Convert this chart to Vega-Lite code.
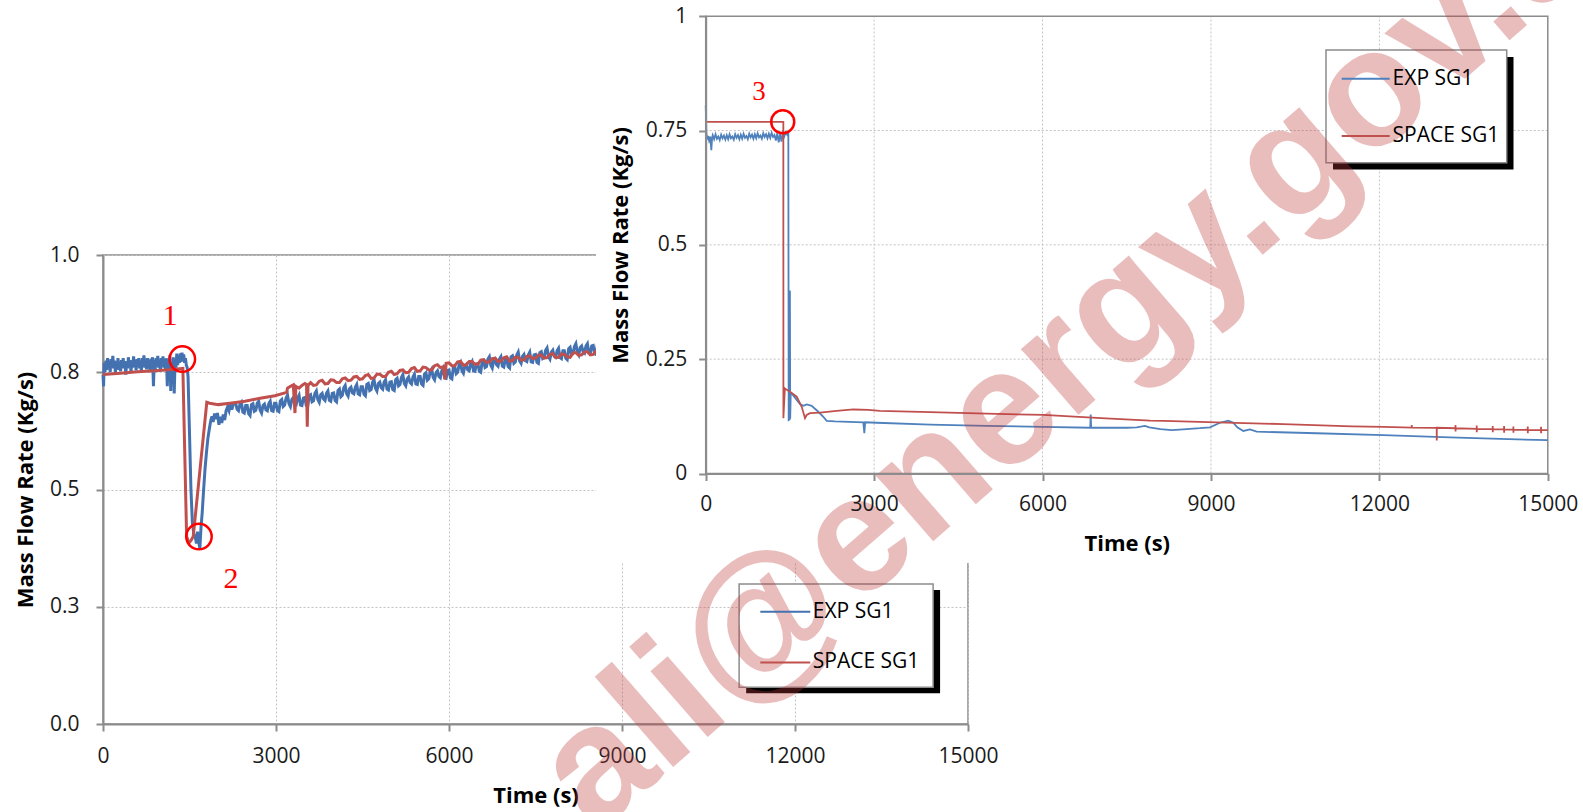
{
  "$schema": "https://vega.github.io/schema/vega-lite/v6.json",
  "width": 865,
  "height": 469,
  "autosize": {"type": "none"},
  "padding": {"left": 103, "top": 255, "right": 615, "bottom": 88},
  "background": "white",
  "config": {"font": "Open Sans", "view": {"stroke": "#8c8c8c", "strokeWidth": 1.5}},
  "datasets": {
    "left": [
      {"s":"EXP SG1","t":0,"v":0.745},{"s":"EXP SG1","t":10,"v":0.72},{"s":"EXP SG1","t":20,"v":0.77},{"s":"EXP SG1","t":35,"v":0.75},{"s":"EXP SG1","t":50,"v":0.775},{"s":"EXP SG1","t":65,"v":0.755},{"s":"EXP SG1","t":80,"v":0.78},{"s":"EXP SG1","t":95,"v":0.76},{"s":"EXP SG1","t":110,"v":0.772},{"s":"EXP SG1","t":125,"v":0.75},{"s":"EXP SG1","t":140,"v":0.778},{"s":"EXP SG1","t":155,"v":0.758},{"s":"EXP SG1","t":170,"v":0.785},{"s":"EXP SG1","t":185,"v":0.762},{"s":"EXP SG1","t":200,"v":0.775},{"s":"EXP SG1","t":215,"v":0.748},{"s":"EXP SG1","t":230,"v":0.772},{"s":"EXP SG1","t":245,"v":0.76},{"s":"EXP SG1","t":260,"v":0.78},{"s":"EXP SG1","t":275,"v":0.755},{"s":"EXP SG1","t":290,"v":0.77},{"s":"EXP SG1","t":305,"v":0.752},{"s":"EXP SG1","t":320,"v":0.776},{"s":"EXP SG1","t":335,"v":0.758},{"s":"EXP SG1","t":350,"v":0.78},{"s":"EXP SG1","t":365,"v":0.76},{"s":"EXP SG1","t":380,"v":0.774},{"s":"EXP SG1","t":395,"v":0.745},{"s":"EXP SG1","t":410,"v":0.77},{"s":"EXP SG1","t":425,"v":0.758},{"s":"EXP SG1","t":440,"v":0.782},{"s":"EXP SG1","t":455,"v":0.762},{"s":"EXP SG1","t":470,"v":0.776},{"s":"EXP SG1","t":485,"v":0.75},{"s":"EXP SG1","t":500,"v":0.772},{"s":"EXP SG1","t":515,"v":0.76},{"s":"EXP SG1","t":530,"v":0.784},{"s":"EXP SG1","t":545,"v":0.762},{"s":"EXP SG1","t":560,"v":0.775},{"s":"EXP SG1","t":575,"v":0.754},{"s":"EXP SG1","t":590,"v":0.778},{"s":"EXP SG1","t":605,"v":0.765},{"s":"EXP SG1","t":620,"v":0.78},{"s":"EXP SG1","t":635,"v":0.758},{"s":"EXP SG1","t":650,"v":0.773},{"s":"EXP SG1","t":665,"v":0.752},{"s":"EXP SG1","t":680,"v":0.78},{"s":"EXP SG1","t":695,"v":0.762},{"s":"EXP SG1","t":710,"v":0.786},{"s":"EXP SG1","t":725,"v":0.76},{"s":"EXP SG1","t":740,"v":0.774},{"s":"EXP SG1","t":755,"v":0.756},{"s":"EXP SG1","t":770,"v":0.78},{"s":"EXP SG1","t":785,"v":0.764},{"s":"EXP SG1","t":800,"v":0.776},{"s":"EXP SG1","t":815,"v":0.75},{"s":"EXP SG1","t":830,"v":0.779},{"s":"EXP SG1","t":845,"v":0.762},{"s":"EXP SG1","t":860,"v":0.782},{"s":"EXP SG1","t":875,"v":0.72},{"s":"EXP SG1","t":890,"v":0.776},{"s":"EXP SG1","t":905,"v":0.755},{"s":"EXP SG1","t":920,"v":0.78},{"s":"EXP SG1","t":935,"v":0.765},{"s":"EXP SG1","t":950,"v":0.785},{"s":"EXP SG1","t":965,"v":0.76},{"s":"EXP SG1","t":980,"v":0.775},{"s":"EXP SG1","t":995,"v":0.752},{"s":"EXP SG1","t":1010,"v":0.78},{"s":"EXP SG1","t":1025,"v":0.766},{"s":"EXP SG1","t":1040,"v":0.784},{"s":"EXP SG1","t":1055,"v":0.76},{"s":"EXP SG1","t":1070,"v":0.778},{"s":"EXP SG1","t":1085,"v":0.755},{"s":"EXP SG1","t":1100,"v":0.78},{"s":"EXP SG1","t":1115,"v":0.72},{"s":"EXP SG1","t":1130,"v":0.775},{"s":"EXP SG1","t":1145,"v":0.763},{"s":"EXP SG1","t":1160,"v":0.786},{"s":"EXP SG1","t":1175,"v":0.71},{"s":"EXP SG1","t":1190,"v":0.77},{"s":"EXP SG1","t":1205,"v":0.74},{"s":"EXP SG1","t":1220,"v":0.782},{"s":"EXP SG1","t":1235,"v":0.705},{"s":"EXP SG1","t":1250,"v":0.775},{"s":"EXP SG1","t":1265,"v":0.76},{"s":"EXP SG1","t":1280,"v":0.79},{"s":"EXP SG1","t":1295,"v":0.765},{"s":"EXP SG1","t":1310,"v":0.785},{"s":"EXP SG1","t":1325,"v":0.77},{"s":"EXP SG1","t":1340,"v":0.79},{"s":"EXP SG1","t":1355,"v":0.772},{"s":"EXP SG1","t":1370,"v":0.792},{"s":"EXP SG1","t":1385,"v":0.775},{"s":"EXP SG1","t":1400,"v":0.788},{"s":"EXP SG1","t":1415,"v":0.77},{"s":"EXP SG1","t":1430,"v":0.78},{"s":"EXP SG1","t":1445,"v":0.765},{"s":"EXP SG1","t":1460,"v":0.76},
      {"s":"EXP SG1","t":1475,"v":0.74},{"s":"EXP SG1","t":1500,"v":0.62},{"s":"EXP SG1","t":1525,"v":0.5},{"s":"EXP SG1","t":1550,"v":0.43},{"s":"EXP SG1","t":1575,"v":0.405},{"s":"EXP SG1","t":1600,"v":0.4},{"s":"EXP SG1","t":1620,"v":0.385},{"s":"EXP SG1","t":1640,"v":0.41},{"s":"EXP SG1","t":1660,"v":0.388},{"s":"EXP SG1","t":1680,"v":0.375},{"s":"EXP SG1","t":1700,"v":0.42},{"s":"EXP SG1","t":1720,"v":0.45},{"s":"EXP SG1","t":1745,"v":0.5},{"s":"EXP SG1","t":1770,"v":0.545},{"s":"EXP SG1","t":1795,"v":0.58},{"s":"EXP SG1","t":1820,"v":0.61},{"s":"EXP SG1","t":1845,"v":0.63},{"s":"EXP SG1","t":1870,"v":0.648},{"s":"EXP SG1","t":1890,"v":0.656},{"s":"EXP SG1","t":1910,"v":0.644},{"s":"EXP SG1","t":1935,"v":0.662},{"s":"EXP SG1","t":1960,"v":0.65},{"s":"EXP SG1","t":1985,"v":0.663},{"s":"EXP SG1","t":2010,"v":0.638},{"s":"EXP SG1","t":2035,"v":0.655},{"s":"EXP SG1","t":2060,"v":0.642},{"s":"EXP SG1","t":2085,"v":0.66},{"s":"EXP SG1","t":2110,"v":0.648},{"s":"EXP SG1","t":2135,"v":0.668},{"s":"EXP SG1","t":2160,"v":0.676},{"s":"EXP SG1","t":2185,"v":0.668},{"s":"EXP SG1","t":2210,"v":0.686},{"s":"EXP SG1","t":2235,"v":0.67},{"s":"EXP SG1","t":2260,"v":0.683},
      {"s":"EXP SG1","t":2300,"v":0.684},{"s":"EXP SG1","t":2350,"v":0.668},{"s":"EXP SG1","t":2400,"v":0.686},{"s":"EXP SG1","t":2450,"v":0.663},{"s":"EXP SG1","t":2500,"v":0.679},{"s":"EXP SG1","t":2550,"v":0.658},{"s":"EXP SG1","t":2600,"v":0.683},{"s":"EXP SG1","t":2650,"v":0.669},{"s":"EXP SG1","t":2700,"v":0.688},{"s":"EXP SG1","t":2750,"v":0.663},{"s":"EXP SG1","t":2800,"v":0.682},{"s":"EXP SG1","t":2850,"v":0.668},{"s":"EXP SG1","t":2900,"v":0.688},{"s":"EXP SG1","t":2950,"v":0.667},{"s":"EXP SG1","t":3000,"v":0.684},{"s":"EXP SG1","t":3050,"v":0.666},{"s":"EXP SG1","t":3100,"v":0.692},{"s":"EXP SG1","t":3150,"v":0.68},{"s":"EXP SG1","t":3200,"v":0.701},{"s":"EXP SG1","t":3250,"v":0.677},{"s":"EXP SG1","t":3300,"v":0.696},{"s":"EXP SG1","t":3350,"v":0.681},{"s":"EXP SG1","t":3400,"v":0.701},{"s":"EXP SG1","t":3450,"v":0.679},{"s":"EXP SG1","t":3500,"v":0.696},{"s":"EXP SG1","t":3550,"v":0.677},{"s":"EXP SG1","t":3600,"v":0.702},{"s":"EXP SG1","t":3650,"v":0.689},{"s":"EXP SG1","t":3700,"v":0.71},{"s":"EXP SG1","t":3750,"v":0.686},{"s":"EXP SG1","t":3800,"v":0.705},{"s":"EXP SG1","t":3850,"v":0.69},{"s":"EXP SG1","t":3900,"v":0.71},{"s":"EXP SG1","t":3950,"v":0.688},{"s":"EXP SG1","t":4000,"v":0.706},{"s":"EXP SG1","t":4050,"v":0.687},{"s":"EXP SG1","t":4100,"v":0.714},{"s":"EXP SG1","t":4150,"v":0.701},{"s":"EXP SG1","t":4200,"v":0.722},{"s":"EXP SG1","t":4250,"v":0.699},{"s":"EXP SG1","t":4300,"v":0.718},{"s":"EXP SG1","t":4350,"v":0.704},{"s":"EXP SG1","t":4400,"v":0.724},{"s":"EXP SG1","t":4450,"v":0.702},{"s":"EXP SG1","t":4500,"v":0.719},{"s":"EXP SG1","t":4550,"v":0.7},{"s":"EXP SG1","t":4600,"v":0.726},{"s":"EXP SG1","t":4650,"v":0.713},{"s":"EXP SG1","t":4700,"v":0.734},{"s":"EXP SG1","t":4750,"v":0.71},{"s":"EXP SG1","t":4800,"v":0.729},{"s":"EXP SG1","t":4850,"v":0.714},{"s":"EXP SG1","t":4900,"v":0.734},{"s":"EXP SG1","t":4950,"v":0.712},{"s":"EXP SG1","t":5000,"v":0.73},{"s":"EXP SG1","t":5050,"v":0.711},{"s":"EXP SG1","t":5100,"v":0.737},{"s":"EXP SG1","t":5150,"v":0.724},{"s":"EXP SG1","t":5200,"v":0.745},{"s":"EXP SG1","t":5250,"v":0.721},{"s":"EXP SG1","t":5300,"v":0.74},{"s":"EXP SG1","t":5350,"v":0.725},{"s":"EXP SG1","t":5400,"v":0.746},{"s":"EXP SG1","t":5450,"v":0.724},{"s":"EXP SG1","t":5500,"v":0.741},{"s":"EXP SG1","t":5550,"v":0.722},{"s":"EXP SG1","t":5600,"v":0.749},{"s":"EXP SG1","t":5650,"v":0.736},{"s":"EXP SG1","t":5700,"v":0.757},{"s":"EXP SG1","t":5750,"v":0.734},{"s":"EXP SG1","t":5800,"v":0.753},{"s":"EXP SG1","t":5850,"v":0.738},{"s":"EXP SG1","t":5900,"v":0.759},{"s":"EXP SG1","t":5950,"v":0.737},{"s":"EXP SG1","t":6000,"v":0.755},{"s":"EXP SG1","t":6050,"v":0.736},{"s":"EXP SG1","t":6100,"v":0.762},{"s":"EXP SG1","t":6150,"v":0.75},{"s":"EXP SG1","t":6200,"v":0.771},{"s":"EXP SG1","t":6250,"v":0.748},{"s":"EXP SG1","t":6300,"v":0.767},{"s":"EXP SG1","t":6350,"v":0.753},{"s":"EXP SG1","t":6400,"v":0.773},{"s":"EXP SG1","t":6450,"v":0.752},{"s":"EXP SG1","t":6500,"v":0.769},{"s":"EXP SG1","t":6550,"v":0.75},{"s":"EXP SG1","t":6600,"v":0.775},{"s":"EXP SG1","t":6650,"v":0.762},{"s":"EXP SG1","t":6700,"v":0.783},{"s":"EXP SG1","t":6750,"v":0.759},{"s":"EXP SG1","t":6800,"v":0.778},{"s":"EXP SG1","t":6850,"v":0.763},{"s":"EXP SG1","t":6900,"v":0.783},{"s":"EXP SG1","t":6950,"v":0.761},{"s":"EXP SG1","t":7000,"v":0.778},{"s":"EXP SG1","t":7050,"v":0.759},{"s":"EXP SG1","t":7100,"v":0.785},{"s":"EXP SG1","t":7150,"v":0.772},{"s":"EXP SG1","t":7200,"v":0.793},{"s":"EXP SG1","t":7250,"v":0.769},{"s":"EXP SG1","t":7300,"v":0.788},{"s":"EXP SG1","t":7350,"v":0.773},{"s":"EXP SG1","t":7400,"v":0.793},{"s":"EXP SG1","t":7450,"v":0.771},{"s":"EXP SG1","t":7500,"v":0.788},{"s":"EXP SG1","t":7550,"v":0.769},{"s":"EXP SG1","t":7600,"v":0.794},{"s":"EXP SG1","t":7650,"v":0.781},{"s":"EXP SG1","t":7700,"v":0.802},{"s":"EXP SG1","t":7750,"v":0.778},{"s":"EXP SG1","t":7800,"v":0.797},{"s":"EXP SG1","t":7850,"v":0.782},{"s":"EXP SG1","t":7900,"v":0.801},{"s":"EXP SG1","t":7950,"v":0.779},{"s":"EXP SG1","t":8000,"v":0.796},{"s":"EXP SG1","t":8050,"v":0.777},{"s":"EXP SG1","t":8100,"v":0.803},{"s":"EXP SG1","t":8150,"v":0.79},{"s":"EXP SG1","t":8200,"v":0.811},{"s":"EXP SG1","t":8250,"v":0.787},{"s":"EXP SG1","t":8300,"v":0.806},{"s":"EXP SG1","t":8350,"v":0.791},{"s":"EXP SG1","t":8400,"v":0.811},{"s":"EXP SG1","t":8450,"v":0.79},{"s":"EXP SG1","t":8500,"v":0.807},{"s":"EXP SG1","t":8550,"v":0.788},{"s":"EXP SG1","t":8600,"v":0.814},{"s":"EXP SG1","t":8650,"v":0.801},{"s":"EXP SG1","t":8700,"v":0.822},
      {"s":"EXP SG1","t":2325,"v":0.671},{"s":"EXP SG1","t":2375,"v":0.682},{"s":"EXP SG1","t":2425,"v":0.665},{"s":"EXP SG1","t":2475,"v":0.679},{"s":"EXP SG1","t":2525,"v":0.662},{"s":"EXP SG1","t":2575,"v":0.681},{"s":"EXP SG1","t":2625,"v":0.667},{"s":"EXP SG1","t":2675,"v":0.684},{"s":"EXP SG1","t":2725,"v":0.669},{"s":"EXP SG1","t":2775,"v":0.679},{"s":"EXP SG1","t":2825,"v":0.67},{"s":"EXP SG1","t":2875,"v":0.683},{"s":"EXP SG1","t":2925,"v":0.668},{"s":"EXP SG1","t":2975,"v":0.684},{"s":"EXP SG1","t":3025,"v":0.668},{"s":"EXP SG1","t":3075,"v":0.689},{"s":"EXP SG1","t":3125,"v":0.677},{"s":"EXP SG1","t":3175,"v":0.695},{"s":"EXP SG1","t":3225,"v":0.683},{"s":"EXP SG1","t":3275,"v":0.692},{"s":"EXP SG1","t":3325,"v":0.683},{"s":"EXP SG1","t":3375,"v":0.695},{"s":"EXP SG1","t":3425,"v":0.68},{"s":"EXP SG1","t":3475,"v":0.695},{"s":"EXP SG1","t":3525,"v":0.679},{"s":"EXP SG1","t":3575,"v":0.7},{"s":"EXP SG1","t":3625,"v":0.687},{"s":"EXP SG1","t":3675,"v":0.705},{"s":"EXP SG1","t":3725,"v":0.692},{"s":"EXP SG1","t":3775,"v":0.702},{"s":"EXP SG1","t":3825,"v":0.693},{"s":"EXP SG1","t":3875,"v":0.705},{"s":"EXP SG1","t":3925,"v":0.69},{"s":"EXP SG1","t":3975,"v":0.705},{"s":"EXP SG1","t":4025,"v":0.69},{"s":"EXP SG1","t":4075,"v":0.711},{"s":"EXP SG1","t":4125,"v":0.698},{"s":"EXP SG1","t":4175,"v":0.717},{"s":"EXP SG1","t":4225,"v":0.704},{"s":"EXP SG1","t":4275,"v":0.715},{"s":"EXP SG1","t":4325,"v":0.706},{"s":"EXP SG1","t":4375,"v":0.718},{"s":"EXP SG1","t":4425,"v":0.704},{"s":"EXP SG1","t":4475,"v":0.719},{"s":"EXP SG1","t":4525,"v":0.703},{"s":"EXP SG1","t":4575,"v":0.724},{"s":"EXP SG1","t":4625,"v":0.711},{"s":"EXP SG1","t":4675,"v":0.729},{"s":"EXP SG1","t":4725,"v":0.716},{"s":"EXP SG1","t":4775,"v":0.726},{"s":"EXP SG1","t":4825,"v":0.717},{"s":"EXP SG1","t":4875,"v":0.729},{"s":"EXP SG1","t":4925,"v":0.714},{"s":"EXP SG1","t":4975,"v":0.729},{"s":"EXP SG1","t":5025,"v":0.713},{"s":"EXP SG1","t":5075,"v":0.734},{"s":"EXP SG1","t":5125,"v":0.721},{"s":"EXP SG1","t":5175,"v":0.739},{"s":"EXP SG1","t":5225,"v":0.726},{"s":"EXP SG1","t":5275,"v":0.736},{"s":"EXP SG1","t":5325,"v":0.728},{"s":"EXP SG1","t":5375,"v":0.74},{"s":"EXP SG1","t":5425,"v":0.725},{"s":"EXP SG1","t":5475,"v":0.741},{"s":"EXP SG1","t":5525,"v":0.725},{"s":"EXP SG1","t":5575,"v":0.746},{"s":"EXP SG1","t":5625,"v":0.733},{"s":"EXP SG1","t":5675,"v":0.752},{"s":"EXP SG1","t":5725,"v":0.739},{"s":"EXP SG1","t":5775,"v":0.749},{"s":"EXP SG1","t":5825,"v":0.741},{"s":"EXP SG1","t":5875,"v":0.753},{"s":"EXP SG1","t":5925,"v":0.738},{"s":"EXP SG1","t":5975,"v":0.754},{"s":"EXP SG1","t":6025,"v":0.738},{"s":"EXP SG1","t":6075,"v":0.76},{"s":"EXP SG1","t":6125,"v":0.747},{"s":"EXP SG1","t":6175,"v":0.766},{"s":"EXP SG1","t":6225,"v":0.753},{"s":"EXP SG1","t":6275,"v":0.764},{"s":"EXP SG1","t":6325,"v":0.755},{"s":"EXP SG1","t":6375,"v":0.768},{"s":"EXP SG1","t":6425,"v":0.753},{"s":"EXP SG1","t":6475,"v":0.768},{"s":"EXP SG1","t":6525,"v":0.752},{"s":"EXP SG1","t":6575,"v":0.773},{"s":"EXP SG1","t":6625,"v":0.76},{"s":"EXP SG1","t":6675,"v":0.778},{"s":"EXP SG1","t":6725,"v":0.765},{"s":"EXP SG1","t":6775,"v":0.775},{"s":"EXP SG1","t":6825,"v":0.766},{"s":"EXP SG1","t":6875,"v":0.778},{"s":"EXP SG1","t":6925,"v":0.763},{"s":"EXP SG1","t":6975,"v":0.778},{"s":"EXP SG1","t":7025,"v":0.762},{"s":"EXP SG1","t":7075,"v":0.783},{"s":"EXP SG1","t":7125,"v":0.769},{"s":"EXP SG1","t":7175,"v":0.787},{"s":"EXP SG1","t":7225,"v":0.774},{"s":"EXP SG1","t":7275,"v":0.784},{"s":"EXP SG1","t":7325,"v":0.775},{"s":"EXP SG1","t":7375,"v":0.787},{"s":"EXP SG1","t":7425,"v":0.772},{"s":"EXP SG1","t":7475,"v":0.787},{"s":"EXP SG1","t":7525,"v":0.771},{"s":"EXP SG1","t":7575,"v":0.792},{"s":"EXP SG1","t":7625,"v":0.779},{"s":"EXP SG1","t":7675,"v":0.797},{"s":"EXP SG1","t":7725,"v":0.783},{"s":"EXP SG1","t":7775,"v":0.793},{"s":"EXP SG1","t":7825,"v":0.784},{"s":"EXP SG1","t":7875,"v":0.796},{"s":"EXP SG1","t":7925,"v":0.781},{"s":"EXP SG1","t":7975,"v":0.796},{"s":"EXP SG1","t":8025,"v":0.78},{"s":"EXP SG1","t":8075,"v":0.8},{"s":"EXP SG1","t":8125,"v":0.787},{"s":"EXP SG1","t":8175,"v":0.805},{"s":"EXP SG1","t":8225,"v":0.793},{"s":"EXP SG1","t":8275,"v":0.803},{"s":"EXP SG1","t":8325,"v":0.794},{"s":"EXP SG1","t":8375,"v":0.806},{"s":"EXP SG1","t":8425,"v":0.791},{"s":"EXP SG1","t":8475,"v":0.806},{"s":"EXP SG1","t":8525,"v":0.79},{"s":"EXP SG1","t":8575,"v":0.811},{"s":"EXP SG1","t":8625,"v":0.798},{"s":"EXP SG1","t":8675,"v":0.817},
      {"s":"SPACE SG1","t":0,"v":0.745},{"s":"SPACE SG1","t":300,"v":0.748},{"s":"SPACE SG1","t":600,"v":0.751},{"s":"SPACE SG1","t":900,"v":0.753},{"s":"SPACE SG1","t":1200,"v":0.756},{"s":"SPACE SG1","t":1385,"v":0.758},{"s":"SPACE SG1","t":1450,"v":0.4},{"s":"SPACE SG1","t":1490,"v":0.386},{"s":"SPACE SG1","t":1530,"v":0.392},{"s":"SPACE SG1","t":1565,"v":0.4},{"s":"SPACE SG1","t":1800,"v":0.686},{"s":"SPACE SG1","t":1850,"v":0.684},{"s":"SPACE SG1","t":1900,"v":0.683},{"s":"SPACE SG1","t":2000,"v":0.681},{"s":"SPACE SG1","t":2200,"v":0.684},{"s":"SPACE SG1","t":2462,"v":0.688},{"s":"SPACE SG1","t":2700,"v":0.694},{"s":"SPACE SG1","t":2982,"v":0.7},{"s":"SPACE SG1","t":3185,"v":0.707},{"s":"SPACE SG1","t":3200,"v":0.716},{"s":"SPACE SG1","t":3250,"v":0.72},{"s":"SPACE SG1","t":3300,"v":0.723},{"s":"SPACE SG1","t":3329,"v":0.663},{"s":"SPACE SG1","t":3345,"v":0.72},{"s":"SPACE SG1","t":3400,"v":0.716},{"s":"SPACE SG1","t":3450,"v":0.722},{"s":"SPACE SG1","t":3500,"v":0.726},{"s":"SPACE SG1","t":3530,"v":0.724},{"s":"SPACE SG1","t":3542,"v":0.634},{"s":"SPACE SG1","t":3555,"v":0.722},
      {"s":"SPACE SG1","t":3600,"v":0.728},{"s":"SPACE SG1","t":3650,"v":0.722},{"s":"SPACE SG1","t":3700,"v":0.723},{"s":"SPACE SG1","t":3750,"v":0.731},{"s":"SPACE SG1","t":3800,"v":0.733},{"s":"SPACE SG1","t":3850,"v":0.725},{"s":"SPACE SG1","t":3900,"v":0.726},{"s":"SPACE SG1","t":3950,"v":0.734},{"s":"SPACE SG1","t":4000,"v":0.733},{"s":"SPACE SG1","t":4050,"v":0.728},{"s":"SPACE SG1","t":4100,"v":0.728},{"s":"SPACE SG1","t":4150,"v":0.736},{"s":"SPACE SG1","t":4200,"v":0.738},{"s":"SPACE SG1","t":4250,"v":0.732},{"s":"SPACE SG1","t":4300,"v":0.733},{"s":"SPACE SG1","t":4350,"v":0.74},{"s":"SPACE SG1","t":4400,"v":0.741},{"s":"SPACE SG1","t":4450,"v":0.735},{"s":"SPACE SG1","t":4500,"v":0.736},{"s":"SPACE SG1","t":4550,"v":0.743},{"s":"SPACE SG1","t":4600,"v":0.745},{"s":"SPACE SG1","t":4650,"v":0.737},{"s":"SPACE SG1","t":4700,"v":0.738},{"s":"SPACE SG1","t":4750,"v":0.746},{"s":"SPACE SG1","t":4800,"v":0.746},{"s":"SPACE SG1","t":4850,"v":0.741},{"s":"SPACE SG1","t":4900,"v":0.741},{"s":"SPACE SG1","t":4950,"v":0.75},{"s":"SPACE SG1","t":5000,"v":0.752},{"s":"SPACE SG1","t":5050,"v":0.745},{"s":"SPACE SG1","t":5100,"v":0.747},{"s":"SPACE SG1","t":5150,"v":0.754},{"s":"SPACE SG1","t":5200,"v":0.755},{"s":"SPACE SG1","t":5250,"v":0.749},{"s":"SPACE SG1","t":5300,"v":0.75},{"s":"SPACE SG1","t":5350,"v":0.758},{"s":"SPACE SG1","t":5400,"v":0.76},{"s":"SPACE SG1","t":5450,"v":0.752},{"s":"SPACE SG1","t":5500,"v":0.753},{"s":"SPACE SG1","t":5550,"v":0.761},{"s":"SPACE SG1","t":5600,"v":0.76},{"s":"SPACE SG1","t":5650,"v":0.755},{"s":"SPACE SG1","t":5700,"v":0.755},{"s":"SPACE SG1","t":5750,"v":0.764},{"s":"SPACE SG1","t":5800,"v":0.766},{"s":"SPACE SG1","t":5850,"v":0.76},{"s":"SPACE SG1","t":5900,"v":0.762},{"s":"SPACE SG1","t":5930,"v":0.735},{"s":"SPACE SG1","t":5950,"v":0.769},{"s":"SPACE SG1","t":6000,"v":0.77},{"s":"SPACE SG1","t":6050,"v":0.764},{"s":"SPACE SG1","t":6100,"v":0.764},{"s":"SPACE SG1","t":6150,"v":0.772},{"s":"SPACE SG1","t":6200,"v":0.773},{"s":"SPACE SG1","t":6250,"v":0.765},{"s":"SPACE SG1","t":6300,"v":0.766},{"s":"SPACE SG1","t":6350,"v":0.773},{"s":"SPACE SG1","t":6400,"v":0.773},{"s":"SPACE SG1","t":6450,"v":0.767},{"s":"SPACE SG1","t":6500,"v":0.767},{"s":"SPACE SG1","t":6550,"v":0.776},{"s":"SPACE SG1","t":6600,"v":0.777},{"s":"SPACE SG1","t":6650,"v":0.771},{"s":"SPACE SG1","t":6700,"v":0.772},{"s":"SPACE SG1","t":6750,"v":0.779},{"s":"SPACE SG1","t":6800,"v":0.78},{"s":"SPACE SG1","t":6850,"v":0.773},{"s":"SPACE SG1","t":6900,"v":0.774},{"s":"SPACE SG1","t":6950,"v":0.781},{"s":"SPACE SG1","t":7000,"v":0.783},{"s":"SPACE SG1","t":7050,"v":0.774},{"s":"SPACE SG1","t":7100,"v":0.775},{"s":"SPACE SG1","t":7150,"v":0.782},{"s":"SPACE SG1","t":7200,"v":0.782},{"s":"SPACE SG1","t":7250,"v":0.776},{"s":"SPACE SG1","t":7300,"v":0.776},{"s":"SPACE SG1","t":7350,"v":0.784},{"s":"SPACE SG1","t":7400,"v":0.785},{"s":"SPACE SG1","t":7450,"v":0.779},{"s":"SPACE SG1","t":7500,"v":0.78},{"s":"SPACE SG1","t":7550,"v":0.787},{"s":"SPACE SG1","t":7600,"v":0.787},{"s":"SPACE SG1","t":7650,"v":0.78},{"s":"SPACE SG1","t":7700,"v":0.781},{"s":"SPACE SG1","t":7750,"v":0.788},{"s":"SPACE SG1","t":7800,"v":0.79},{"s":"SPACE SG1","t":7850,"v":0.781},{"s":"SPACE SG1","t":7900,"v":0.782},{"s":"SPACE SG1","t":7950,"v":0.789},{"s":"SPACE SG1","t":8000,"v":0.788},{"s":"SPACE SG1","t":8050,"v":0.783},{"s":"SPACE SG1","t":8100,"v":0.782},{"s":"SPACE SG1","t":8150,"v":0.791},{"s":"SPACE SG1","t":8200,"v":0.792},{"s":"SPACE SG1","t":8250,"v":0.786},{"s":"SPACE SG1","t":8300,"v":0.787},{"s":"SPACE SG1","t":8350,"v":0.793},{"s":"SPACE SG1","t":8400,"v":0.794},{"s":"SPACE SG1","t":8450,"v":0.787},{"s":"SPACE SG1","t":8500,"v":0.788},{"s":"SPACE SG1","t":8550,"v":0.795},{"s":"SPACE SG1","t":8600,"v":0.797},{"s":"SPACE SG1","t":8650,"v":0.788},{"s":"SPACE SG1","t":8700,"v":0.789}
    ],
    "right": [
      {"s":"EXP SG1","t":0,"v":0.805},{"s":"EXP SG1","t":12,"v":0.745},{"s":"EXP SG1","t":25,"v":0.73},{"s":"EXP SG1","t":40,"v":0.738},{"s":"EXP SG1","t":60,"v":0.728},{"s":"EXP SG1","t":80,"v":0.737},{"s":"EXP SG1","t":100,"v":0.707},{"s":"EXP SG1","t":115,"v":0.735},{"s":"EXP SG1","t":125,"v":0.74},{"s":"EXP SG1","t":150,"v":0.731},{"s":"EXP SG1","t":175,"v":0.742},{"s":"EXP SG1","t":200,"v":0.732},{"s":"EXP SG1","t":225,"v":0.737},{"s":"EXP SG1","t":250,"v":0.729},{"s":"EXP SG1","t":275,"v":0.741},{"s":"EXP SG1","t":300,"v":0.733},{"s":"EXP SG1","t":325,"v":0.739},{"s":"EXP SG1","t":350,"v":0.73},{"s":"EXP SG1","t":375,"v":0.74},{"s":"EXP SG1","t":400,"v":0.731},{"s":"EXP SG1","t":425,"v":0.742},{"s":"EXP SG1","t":450,"v":0.733},{"s":"EXP SG1","t":475,"v":0.737},{"s":"EXP SG1","t":500,"v":0.73},{"s":"EXP SG1","t":525,"v":0.742},{"s":"EXP SG1","t":550,"v":0.734},{"s":"EXP SG1","t":575,"v":0.74},{"s":"EXP SG1","t":600,"v":0.731},{"s":"EXP SG1","t":625,"v":0.741},{"s":"EXP SG1","t":650,"v":0.732},{"s":"EXP SG1","t":675,"v":0.743},{"s":"EXP SG1","t":700,"v":0.734},{"s":"EXP SG1","t":725,"v":0.738},{"s":"EXP SG1","t":750,"v":0.731},{"s":"EXP SG1","t":775,"v":0.743},{"s":"EXP SG1","t":800,"v":0.735},{"s":"EXP SG1","t":825,"v":0.741},{"s":"EXP SG1","t":850,"v":0.732},{"s":"EXP SG1","t":875,"v":0.742},{"s":"EXP SG1","t":900,"v":0.733},{"s":"EXP SG1","t":925,"v":0.744},{"s":"EXP SG1","t":950,"v":0.735},{"s":"EXP SG1","t":975,"v":0.739},{"s":"EXP SG1","t":1000,"v":0.732},{"s":"EXP SG1","t":1025,"v":0.744},{"s":"EXP SG1","t":1050,"v":0.736},{"s":"EXP SG1","t":1075,"v":0.742},{"s":"EXP SG1","t":1100,"v":0.733},{"s":"EXP SG1","t":1125,"v":0.743},{"s":"EXP SG1","t":1150,"v":0.734},{"s":"EXP SG1","t":1175,"v":0.745},{"s":"EXP SG1","t":1200,"v":0.736},{"s":"EXP SG1","t":1225,"v":0.74},{"s":"EXP SG1","t":1250,"v":0.728},{"s":"EXP SG1","t":1275,"v":0.744},{"s":"EXP SG1","t":1300,"v":0.724},{"s":"EXP SG1","t":1325,"v":0.742},{"s":"EXP SG1","t":1350,"v":0.726},{"s":"EXP SG1","t":1375,"v":0.745},{"s":"EXP SG1","t":1400,"v":0.737},{"s":"EXP SG1","t":1425,"v":0.746},{"s":"EXP SG1","t":1450,"v":0.741},{"s":"EXP SG1","t":1465,"v":0.745},{"s":"EXP SG1","t":1472,"v":0.745},{"s":"EXP SG1","t":1478,"v":0.117},{"s":"EXP SG1","t":1495,"v":0.118},{"s":"EXP SG1","t":1500,"v":0.4},{"s":"EXP SG1","t":1505,"v":0.12},{"s":"EXP SG1","t":1515,"v":0.175},{"s":"EXP SG1","t":1532,"v":0.175},{"s":"EXP SG1","t":1621,"v":0.161},{"s":"EXP SG1","t":1680,"v":0.152},{"s":"EXP SG1","t":1739,"v":0.148},{"s":"EXP SG1","t":1799,"v":0.151},{"s":"EXP SG1","t":1888,"v":0.148},{"s":"EXP SG1","t":2006,"v":0.135},{"s":"EXP SG1","t":2095,"v":0.124},{"s":"EXP SG1","t":2155,"v":0.115},{"s":"EXP SG1","t":2300,"v":0.114},{"s":"EXP SG1","t":2808,"v":0.112},{"s":"EXP SG1","t":2826,"v":0.088},{"s":"EXP SG1","t":2840,"v":0.112},{"s":"EXP SG1","t":3046,"v":0.111},{"s":"EXP SG1","t":4000,"v":0.107},{"s":"EXP SG1","t":5000,"v":0.104},{"s":"EXP SG1","t":6014,"v":0.102},{"s":"EXP SG1","t":6850,"v":0.1},{"s":"EXP SG1","t":6858,"v":0.129},{"s":"EXP SG1","t":6866,"v":0.1},{"s":"EXP SG1","t":7500,"v":0.1},{"s":"EXP SG1","t":7677,"v":0.101},{"s":"EXP SG1","t":7825,"v":0.104},{"s":"EXP SG1","t":7900,"v":0.101},{"s":"EXP SG1","t":8100,"v":0.097},{"s":"EXP SG1","t":8300,"v":0.095},{"s":"EXP SG1","t":8507,"v":0.0966},{"s":"EXP SG1","t":8800,"v":0.099},{"s":"EXP SG1","t":8982,"v":0.101},{"s":"EXP SG1","t":9161,"v":0.111},{"s":"EXP SG1","t":9309,"v":0.1155},{"s":"EXP SG1","t":9398,"v":0.111},{"s":"EXP SG1","t":9469,"v":0.101},{"s":"EXP SG1","t":9576,"v":0.093},{"s":"EXP SG1","t":9695,"v":0.0966},{"s":"EXP SG1","t":9814,"v":0.0915},{"s":"EXP SG1","t":10883,"v":0.088},{"s":"EXP SG1","t":12070,"v":0.084},{"s":"EXP SG1","t":13258,"v":0.079},{"s":"EXP SG1","t":14149,"v":0.0755},{"s":"EXP SG1","t":15000,"v":0.073},
      {"s":"SPACE SG1","t":0,"v":0.769},{"s":"SPACE SG1","t":1383,"v":0.769},{"s":"SPACE SG1","t":1384,"v":0.121},{"s":"SPACE SG1","t":1410,"v":0.186},{"s":"SPACE SG1","t":1430,"v":0.184},{"s":"SPACE SG1","t":1502,"v":0.179},{"s":"SPACE SG1","t":1621,"v":0.168},{"s":"SPACE SG1","t":1710,"v":0.146},{"s":"SPACE SG1","t":1769,"v":0.121},{"s":"SPACE SG1","t":1799,"v":0.128},{"s":"SPACE SG1","t":1858,"v":0.132},{"s":"SPACE SG1","t":2036,"v":0.133},{"s":"SPACE SG1","t":2333,"v":0.137},{"s":"SPACE SG1","t":2630,"v":0.14},{"s":"SPACE SG1","t":2900,"v":0.139},{"s":"SPACE SG1","t":3100,"v":0.137},{"s":"SPACE SG1","t":4000,"v":0.134},{"s":"SPACE SG1","t":5000,"v":0.131},{"s":"SPACE SG1","t":6014,"v":0.128},{"s":"SPACE SG1","t":7042,"v":0.121},{"s":"SPACE SG1","t":7914,"v":0.1155},{"s":"SPACE SG1","t":8159,"v":0.115},{"s":"SPACE SG1","t":9102,"v":0.112},{"s":"SPACE SG1","t":10288,"v":0.108},{"s":"SPACE SG1","t":11513,"v":0.103},{"s":"SPACE SG1","t":12070,"v":0.102},{"s":"SPACE SG1","t":12576,"v":0.1005},{"s":"SPACE SG1","t":12577,"v":0.106},{"s":"SPACE SG1","t":12578,"v":0.1005},{"s":"SPACE SG1","t":13021,"v":0.1},{"s":"SPACE SG1","t":13022,"v":0.072},{"s":"SPACE SG1","t":13023,"v":0.1},{"s":"SPACE SG1","t":13355,"v":0.099},{"s":"SPACE SG1","t":13356,"v":0.106},{"s":"SPACE SG1","t":13357,"v":0.092},{"s":"SPACE SG1","t":13358,"v":0.099},{"s":"SPACE SG1","t":13733,"v":0.0975},{"s":"SPACE SG1","t":13734,"v":0.105},{"s":"SPACE SG1","t":13735,"v":0.09},{"s":"SPACE SG1","t":13736,"v":0.0975},{"s":"SPACE SG1","t":14018,"v":0.097},{"s":"SPACE SG1","t":14019,"v":0.104},{"s":"SPACE SG1","t":14020,"v":0.09},{"s":"SPACE SG1","t":14021,"v":0.097},{"s":"SPACE SG1","t":14220,"v":0.0965},{"s":"SPACE SG1","t":14221,"v":0.104},{"s":"SPACE SG1","t":14222,"v":0.089},{"s":"SPACE SG1","t":14223,"v":0.0965},{"s":"SPACE SG1","t":14386,"v":0.096},{"s":"SPACE SG1","t":14387,"v":0.103},{"s":"SPACE SG1","t":14388,"v":0.089},{"s":"SPACE SG1","t":14389,"v":0.096},{"s":"SPACE SG1","t":14642,"v":0.0955},{"s":"SPACE SG1","t":14643,"v":0.103},{"s":"SPACE SG1","t":14644,"v":0.088},{"s":"SPACE SG1","t":14645,"v":0.0955},{"s":"SPACE SG1","t":14879,"v":0.095},{"s":"SPACE SG1","t":14880,"v":0.102},{"s":"SPACE SG1","t":14881,"v":0.088},{"s":"SPACE SG1","t":14882,"v":0.095},{"s":"SPACE SG1","t":15000,"v":0.095}
    ]
  },
  "layer": [
    {
      "layer": [
        {
          "data": {"name": "left"},
          "mark": {"type": "line", "strokeWidth": 3},
          "encoding": {
            "x": {"field": "t", "type": "quantitative", "scale": {"domain": [0, 15000], "nice": false, "zero": false},
              "axis": {"title": "Time (s)", "orient": "bottom", "values": [0, 3000, 6000, 9000, 12000, 15000], "format": "d", "labelFlush": false, "labelOverlap": false, "grid": true, "gridColor": "#c4c4c4", "gridDash": [2, 2], "gridWidth": 1, "domainColor": "#8c8c8c", "domainWidth": 2, "tickColor": "#8c8c8c", "tickWidth": 2, "tickSize": 7, "labelFont": "Open Sans", "labelFontSize": 21, "labelColor": "#1a1a1a", "labelPadding": 14, "titleFont": "Open Sans", "titleFontSize": 22, "titleFontWeight": "bold", "titleColor": "#000", "titlePadding": 19, "zindex": 0}},
            "y": {"field": "v", "type": "quantitative", "scale": {"domain": [0, 1], "nice": false, "zero": false},
              "axis": {"title": "Mass Flow Rate (Kg/s)", "orient": "left", "values": [0, 0.25, 0.5, 0.75, 1], "format": ".1f", "labelFlush": false, "labelOverlap": false, "grid": true, "gridColor": "#c4c4c4", "gridDash": [2, 2], "gridWidth": 1, "domainColor": "#8c8c8c", "domainWidth": 2, "tickColor": "#8c8c8c", "tickWidth": 2, "tickSize": 7, "labelFont": "Open Sans", "labelFontSize": 21, "labelColor": "#1a1a1a", "labelPadding": 17, "titleFont": "Open Sans", "titleFontSize": 22, "titleFontWeight": "bold", "titleColor": "#000", "titlePadding": 12, "zindex": 0}},
            "color": {"field": "s", "type": "nominal", "scale": {"domain": ["EXP SG1", "SPACE SG1"], "range": ["#4472b0", "#c0504d"]},
              "legend": {"title": null, "orient": "none", "legendX": 656.3, "legendY": 330.7, "direction": "vertical", "symbolType": "stroke", "symbolSize": 2500, "symbolStrokeWidth": 2, "padding": 0, "rowPadding": 14.7, "labelOffset": 1.5, "labelFont": "Open Sans", "labelFontSize": 21, "labelColor": "#000"}}
          }
        },
        {
          "data": {"values": [{"a": 11153, "b": 14516, "lo": 0.0653, "hi": 0.2858}]},
          "mark": {"type": "rect", "fill": "#000000"},
          "encoding": {
            "x": {"field": "a", "type": "quantitative"}, "x2": {"field": "b"},
            "y": {"field": "lo", "type": "quantitative"}, "y2": {"field": "hi"}
          }
        },
        {
          "data": {"values": [{"a": 11031, "b": 14395, "lo": 0.0781, "hi": 0.2986}]},
          "mark": {"type": "rect", "fill": "#ffffff", "stroke": "#8c8c8c", "strokeWidth": 1.5},
          "encoding": {
            "x": {"field": "a", "type": "quantitative"}, "x2": {"field": "b"},
            "y": {"field": "lo", "type": "quantitative"}, "y2": {"field": "hi"}
          }
        },
        {
          "data": {"values": [{"t": 1375, "v": 0.778}, {"t": 1664, "v": 0.3996}]},
          "mark": {"type": "point", "shape": "circle", "filled": false, "stroke": "#ff0000", "strokeWidth": 2.5, "size": 650, "opacity": 1},
          "encoding": {
            "x": {"field": "t", "type": "quantitative"},
            "y": {"field": "v", "type": "quantitative"}
          }
        },
        {
          "data": {"values": [{"t": 1162, "v": 0.871, "label": "1"}, {"t": 2219, "v": 0.309, "label": "2"}]},
          "mark": {"type": "text", "font": "Liberation Serif", "fontSize": 30, "fill": "#ff0000", "align": "center", "baseline": "middle"},
          "encoding": {
            "x": {"field": "t", "type": "quantitative"},
            "y": {"field": "v", "type": "quantitative"},
            "text": {"field": "label"}
          }
        }
      ]
    },
    {
      "layer": [
        {
          "data": {"values": [{"a": -1954, "b": 16100, "lo": -0.1957, "hi": 1.1}]},
          "mark": {"type": "rect", "fill": "#ffffff"},
          "encoding": {
            "x": {"field": "a", "type": "quantitative", "scale": {"domain": [0, 15000], "range": [602.7, 1444.8], "nice": false, "zero": false}}, "x2": {"field": "b"},
            "y": {"field": "lo", "type": "quantitative", "scale": {"domain": [0, 1], "range": [218.5, -238.8], "nice": false, "zero": false}}, "y2": {"field": "hi"}
          }
        },
        {
          "data": {"values": [{"a": 0, "b": 15000, "lo": 0.25, "hi": 0.25}, {"a": 0, "b": 15000, "lo": 0.5, "hi": 0.5}, {"a": 0, "b": 15000, "lo": 0.75, "hi": 0.75}, {"a": 3000, "b": 3000, "lo": 0, "hi": 1}, {"a": 6000, "b": 6000, "lo": 0, "hi": 1}, {"a": 9000, "b": 9000, "lo": 0, "hi": 1}, {"a": 12000, "b": 12000, "lo": 0, "hi": 1}]},
          "mark": {"type": "rule", "stroke": "#c4c4c4", "strokeDash": [2, 2], "strokeWidth": 1},
          "encoding": {
            "x": {"field": "a", "type": "quantitative"}, "x2": {"field": "b"},
            "y": {"field": "lo", "type": "quantitative"}, "y2": {"field": "hi"}
          }
        },
        {
          "data": {"values": [{"a": 0, "b": 15000, "lo": 0, "hi": 1}]},
          "mark": {"type": "rect", "fill": "#ffffff", "fillOpacity": 0, "stroke": "#8c8c8c", "strokeWidth": 1.5},
          "encoding": {
            "x": {"field": "a", "type": "quantitative"}, "x2": {"field": "b"},
            "y": {"field": "lo", "type": "quantitative"}, "y2": {"field": "hi"}
          }
        },
        {
          "data": {"values": [{"a": 11174, "b": 14389, "lo": 0.6648, "hi": 0.9108}]},
          "mark": {"type": "rect", "fill": "#000000"},
          "encoding": {
            "x": {"field": "a", "type": "quantitative"}, "x2": {"field": "b"},
            "y": {"field": "lo", "type": "quantitative"}, "y2": {"field": "hi"}
          }
        },
        {
          "data": {"values": [{"a": 11049, "b": 14268, "lo": 0.6796, "hi": 0.9261}]},
          "mark": {"type": "rect", "fill": "#ffffff", "stroke": "#8c8c8c", "strokeWidth": 1.5},
          "encoding": {
            "x": {"field": "a", "type": "quantitative"}, "x2": {"field": "b"},
            "y": {"field": "lo", "type": "quantitative"}, "y2": {"field": "hi"}
          }
        },
        {
          "data": {"name": "right"},
          "mark": {"type": "line", "strokeWidth": 1.8},
          "encoding": {
            "x": {"field": "t", "type": "quantitative",
              "axis": {"title": "Time (s)", "orient": "bottom", "offset": -250.5, "values": [0, 3000, 6000, 9000, 12000, 15000], "format": "d", "labelFlush": false, "labelOverlap": false, "grid": false, "domainColor": "#8c8c8c", "domainWidth": 2, "tickColor": "#8c8c8c", "tickWidth": 2, "tickSize": 7, "labelFont": "Open Sans", "labelFontSize": 21, "labelColor": "#1a1a1a", "labelPadding": 13, "titleFont": "Open Sans", "titleFontSize": 22, "titleFontWeight": "bold", "titleColor": "#000", "titlePadding": 19, "zindex": 1}},
            "y": {"field": "v", "type": "quantitative",
              "axis": {"title": "Mass Flow Rate (Kg/s)", "orient": "left", "offset": -602.7, "values": [0, 0.25, 0.5, 0.75, 1], "format": ".2~f", "labelFlush": false, "labelOverlap": false, "grid": false, "domainColor": "#8c8c8c", "domainWidth": 2, "tickColor": "#8c8c8c", "tickWidth": 2, "tickSize": 7, "labelFont": "Open Sans", "labelFontSize": 21, "labelColor": "#1a1a1a", "labelPadding": 12, "titleFont": "Open Sans", "titleFontSize": 22, "titleFontWeight": "bold", "titleColor": "#000", "titlePadding": 13, "zindex": 1}},
            "color": {"field": "s", "type": "nominal", "scale": {"domain": ["EXP SG1", "SPACE SG1"], "range": ["#4f81bd", "#c0504d"]},
              "legend": {"title": null, "orient": "none", "legendX": 1237.7, "legendY": -201.3, "direction": "vertical", "symbolType": "stroke", "symbolSize": 2304, "symbolStrokeWidth": 2, "padding": 0, "rowPadding": 22.2, "labelOffset": 1.9, "labelFont": "Open Sans", "labelFontSize": 21, "labelColor": "#000"}}
          }
        },
        {
          "data": {"values": [{"t": 1372, "v": 0.769}]},
          "mark": {"type": "point", "shape": "circle", "filled": false, "stroke": "#ff0000", "strokeWidth": 2.5, "size": 530, "opacity": 1},
          "encoding": {
            "x": {"field": "t", "type": "quantitative"},
            "y": {"field": "v", "type": "quantitative"}
          }
        },
        {
          "data": {"values": [{"t": 949, "v": 0.834, "label": "3"}]},
          "mark": {"type": "text", "font": "Liberation Serif", "fontSize": 27, "fill": "#ff0000", "align": "center", "baseline": "middle"},
          "encoding": {
            "x": {"field": "t", "type": "quantitative"},
            "y": {"field": "v", "type": "quantitative"},
            "text": {"field": "label"}
          }
        },
        {
          "data": {"values": [{"t": 6440, "v": 0.252, "label": "ali@energy.gov.s"}]},
          "mark": {"type": "text", "font": "Liberation Sans", "fontWeight": "bold", "fontSize": 165, "angle": -41, "fill": "#c0393b", "opacity": 0.33, "align": "center", "baseline": "middle"},
          "encoding": {
            "x": {"field": "t", "type": "quantitative"},
            "y": {"field": "v", "type": "quantitative"},
            "text": {"field": "label"}
          }
        }
      ]
    }
  ],
  "resolve": {
    "scale": {"x": "independent", "y": "independent", "color": "independent"},
    "axis": {"x": "independent", "y": "independent"},
    "legend": {"color": "independent"}
  }
}
